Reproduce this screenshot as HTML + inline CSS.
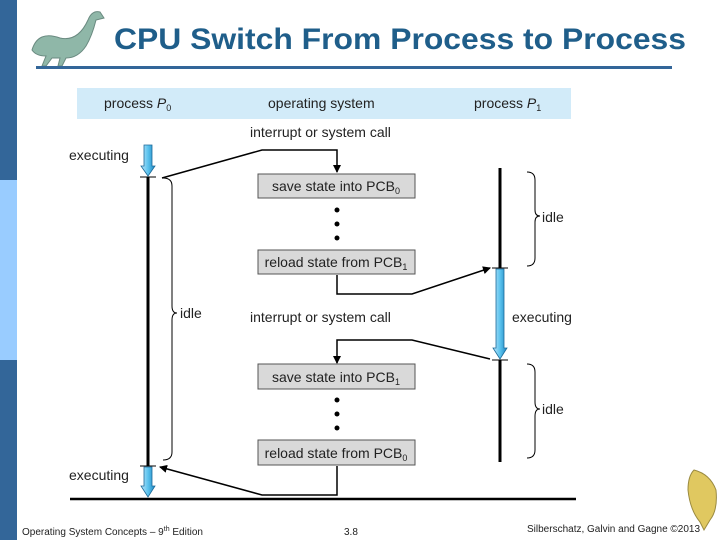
<!DOCTYPE html>
<html><head><meta charset="utf-8"><style>
body{margin:0;width:720px;height:540px;overflow:hidden;background:#fff;font-family:"Liberation Sans",sans-serif;position:relative}
</style></head><body>
<svg width="720" height="540" xmlns="http://www.w3.org/2000/svg" style="position:absolute;left:0;top:0">
<defs>
<marker id="ah" markerWidth="8" markerHeight="8" refX="7" refY="4" orient="auto" markerUnits="userSpaceOnUse"><path d="M0,0 L8,4 L0,8 z" fill="#000"/></marker>
<linearGradient id="bg" x1="0" x2="1"><stop offset="0" stop-color="#bfe6fb"/><stop offset="0.5" stop-color="#5bc3ee"/><stop offset="1" stop-color="#1d86c2"/></linearGradient>
</defs>
<rect x="0" y="0" width="17" height="180" fill="#336699"/>
<rect x="0" y="180" width="17" height="180" fill="#99ccff"/>
<rect x="0" y="360" width="17" height="180" fill="#336699"/>
<g fill="#8fb7a8" stroke="#6a8a80" stroke-width="1">
<path d="M32,50 Q38,30 60,38 Q78,42 88,20 Q92,10 100,12 L104,18 L96,20 Q92,36 86,46 Q78,58 66,58 L62,66 L58,66 L60,58 L52,58 L46,66 L42,66 L46,56 Q36,56 32,50 Z"/>
</g>
<text x="114" y="49" font-size="30" font-weight="bold" fill="#1f5e8a" textLength="572" lengthAdjust="spacingAndGlyphs">CPU Switch From Process to Process</text>
<rect x="36" y="66" width="636" height="3" fill="#336699"/>
<rect x="77" y="88" width="494" height="31" fill="#d2ebf9"/>
<g font-size="14" fill="#222">
<text x="104" y="108">process <tspan font-style="italic">P</tspan><tspan font-size="9" dy="3">0</tspan></text>
<text x="268" y="108">operating system</text>
<text x="474" y="108">process <tspan font-style="italic">P</tspan><tspan font-size="9" dy="3">1</tspan></text>
<text x="250" y="137">interrupt or system call</text>
<text x="250" y="322">interrupt or system call</text>
<text x="69" y="160">executing</text>
<text x="69" y="480">executing</text>
<text x="512" y="322">executing</text>
<text x="180" y="318">idle</text>
<text x="542" y="222">idle</text>
<text x="542" y="414">idle</text>
</g>
<g fill="#d9d9d9" stroke="#555" stroke-width="1">
<rect x="258" y="174" width="157" height="24"/>
<rect x="258" y="250" width="157" height="24"/>
<rect x="258" y="364" width="157" height="25"/>
<rect x="258" y="440" width="157" height="25"/>
</g>
<g font-size="14" fill="#222" text-anchor="middle">
<text x="336" y="191">save state into PCB<tspan font-size="9" dy="3">0</tspan></text>
<text x="336" y="267">reload state from PCB<tspan font-size="9" dy="3">1</tspan></text>
<text x="336" y="382">save state into PCB<tspan font-size="9" dy="3">1</tspan></text>
<text x="336" y="458">reload state from PCB<tspan font-size="9" dy="3">0</tspan></text>
</g>
<g fill="#000"><circle cx="337" cy="210" r="2.5"/><circle cx="337" cy="224" r="2.5"/><circle cx="337" cy="238" r="2.5"/><circle cx="337" cy="400" r="2.5"/><circle cx="337" cy="414" r="2.5"/><circle cx="337" cy="428" r="2.5"/></g>
<g stroke="#000" stroke-width="3"><line x1="148" y1="177" x2="148" y2="466"/><line x1="500" y1="168" x2="500" y2="268"/><line x1="500" y1="360" x2="500" y2="462"/></g>
<g stroke="#000" stroke-width="1"><line x1="140" y1="177" x2="156" y2="177"/><line x1="140" y1="466" x2="156" y2="466"/><line x1="492" y1="268" x2="508" y2="268"/><line x1="492" y1="360" x2="508" y2="360"/></g>
<g fill="url(#bg)" stroke="#1d6a98" stroke-width="0.8">
<path d="M144,145 H152 V166 H155 L148,176 L141,166 H144 Z"/>
<path d="M144,467 H152 V486 H155 L148,497 L141,486 H144 Z"/>
<path d="M496,269 H504 V348 H507 L500,359 L493,348 H496 Z"/>
</g>
<g stroke="#000" stroke-width="1.5" fill="none">
<path d="M162,178 L262,150 L337,150 L337,172" marker-end="url(#ah)"/>
<path d="M337,275 L337,294 L412,294 L490,268" marker-end="url(#ah)"/>
<path d="M490,359 L412,340 L337,340 L337,363" marker-end="url(#ah)"/>
<path d="M337,466 L337,495 L262,495 L160,467" marker-end="url(#ah)"/>
</g>
<g stroke="#000" stroke-width="1" fill="none">
<path d="M163,178 Q172,178 172,186 V306 Q172,313 177,313 Q172,313 172,320 V452 Q172,460 163,460"/>
<path d="M527,172 Q535,172 535,180 V210 Q535,216 540,216 Q535,216 535,222 V258 Q535,266 527,266"/>
<path d="M527,364 Q535,364 535,372 V402 Q535,409 540,409 Q535,409 535,416 V450 Q535,458 527,458"/>
</g>
<line x1="70" y1="499" x2="576" y2="499" stroke="#000" stroke-width="2.5"/>
<g transform="translate(688,470)"><path d="M6,0 Q22,4 28,20 Q30,40 22,50 L16,60 L12,52 Q2,40 0,20 Q0,6 6,0Z" fill="#e0c860" stroke="#9a8a40"/></g>
<text x="22" y="535" font-size="10" fill="#222">Operating System Concepts – 9<tspan font-size="7" dy="-4">th</tspan><tspan dy="4"> Edition</tspan></text>
<text x="344" y="535" font-size="10" fill="#222">3.8</text>
<text x="527" y="532" font-size="10" fill="#222">Silberschatz, Galvin and Gagne ©2013</text>
</svg>
</body></html>
